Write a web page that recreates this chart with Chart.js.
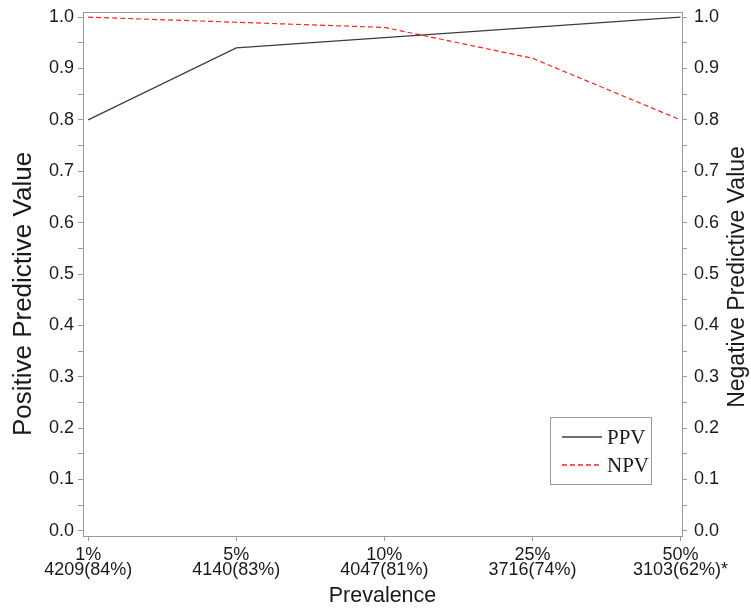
<!DOCTYPE html>
<html>
<head>
<meta charset="utf-8">
<script src="https://cdn.jsdelivr.net/npm/chart.js@4.4.1/dist/chart.umd.min.js"></script>
<style>
  body { margin: 0; background: #fff; }
  #wrap { width: 751px; height: 612px; }
</style>
</head>
<body>
<div id="wrap"><canvas id="chart" width="751" height="612"></canvas></div>
<script>
const prevalence = ["1%", "5%", "10%", "25%", "50%"];
const sampleSizes = ["4209(84%)", "4140(83%)", "4047(81%)", "3716(74%)", "3103(62%)*"];
const ppvValues = [0.80, 0.94, 0.96, 0.98, 1.00];
const npvValues = [1.00, 0.99, 0.98, 0.92, 0.80];
const yTickLabels = ["0.0", "0.1", "0.2", "0.3", "0.4", "0.5", "0.6", "0.7", "0.8", "0.9", "1.0"];

const axisColor = "#9a9a9a";
const textColor = "#1a1a1a";
const ppvColor = "#3c3c3c";
const npvColor = "#ff2020";
const sans = "Liberation Sans, Arial, sans-serif";

function yTicks(scale) {
  const ticks = [];
  yTickLabels.forEach((label, i) => {
    const v = parseFloat(label);
    ticks.push({ value: v });
    if (i < yTickLabels.length - 1) ticks.push({ value: v + 0.05 });
  });
  scale.ticks = ticks;
}

function yLabel(value) {
  if (Math.abs(value * 10 - Math.round(value * 10)) > 1e-6) return "";
  return yTickLabels[Math.round(value * 10)];
}

function fitY(width) {
  return (scale) => {
    scale.width = width;
    scale.paddingTop = 0;
    scale.paddingBottom = 0;
  };
}

function rotatedText(ctx, text, x, y, size) {
  ctx.save();
  ctx.fillStyle = textColor;
  ctx.font = `${size}px ${sans}`;
  ctx.textAlign = "center";
  ctx.textBaseline = "middle";
  ctx.translate(x, y);
  ctx.rotate(-Math.PI / 2);
  ctx.fillText(text, 0, 0);
  ctx.restore();
}

const framePlugin = {
  id: "frame",
  afterDraw(chart) {
    const { ctx, chartArea } = chart;
    ctx.save();
    ctx.strokeStyle = axisColor;
    ctx.lineWidth = 1;
    ctx.beginPath();
    ctx.moveTo(chartArea.left, chartArea.top + 0.5);
    ctx.lineTo(chartArea.right, chartArea.top + 0.5);
    ctx.stroke();
    ctx.restore();

    // axis titles on both sides read bottom to top
    rotatedText(ctx, "Positive Predictive Value", 24, 294, 26);
    rotatedText(ctx, "Negative Predictive Value", 738, 277, 23);

    // legend box
    const items = [
      { label: "PPV", color: ppvColor, dash: [] },
      { label: "NPV", color: npvColor, dash: [5, 3] }
    ];
    ctx.save();
    ctx.strokeStyle = axisColor;
    ctx.lineWidth = 1;
    ctx.strokeRect(550.5, 417.5, 101, 67);
    items.forEach((item, i) => {
      const y = 437 + i * 28;
      ctx.strokeStyle = item.color;
      ctx.lineWidth = 1.6;
      ctx.setLineDash(item.dash);
      ctx.beginPath();
      ctx.moveTo(562, y);
      ctx.lineTo(602, y);
      ctx.stroke();
      ctx.setLineDash([]);
      ctx.fillStyle = textColor;
      ctx.font = "21px Liberation Serif, Times New Roman, serif";
      ctx.textBaseline = "middle";
      ctx.fillText(item.label, 607, y + 1);
    });
    ctx.restore();
  }
};

new Chart(document.getElementById("chart"), {
  type: "line",
  data: {
    datasets: [
      {
        label: "PPV",
        data: ppvValues.map((v, i) => ({ x: i, y: v })),
        borderColor: ppvColor,
        borderWidth: 1.2,
        pointRadius: 0,
        yAxisID: "y"
      },
      {
        label: "NPV",
        data: npvValues.map((v, i) => ({ x: i, y: v })),
        borderColor: npvColor,
        borderWidth: 1.2,
        borderDash: [5, 3],
        pointRadius: 0,
        yAxisID: "y2"
      }
    ]
  },
  options: {
    responsive: false,
    animation: false,
    layout: { padding: { top: 12, left: 0, right: 0, bottom: 0 } },
    plugins: {
      legend: { display: false },
      tooltip: { enabled: false }
    },
    scales: {
      x: {
        type: "linear",
        min: -0.035,
        max: 4.01,
        afterBuildTicks: (scale) => { scale.ticks = prevalence.map((_, i) => ({ value: i })); },
        afterFit: (scale) => {
          scale.height = 76;
          scale.paddingLeft = 0;
          scale.paddingRight = 0;
        },
        ticks: {
          color: textColor,
          font: { family: sans, size: 18, lineHeight: 0.84 },
          maxRotation: 0,
          padding: 6,
          callback: (value) => [prevalence[value], sampleSizes[value]]
        },
        grid: { drawOnChartArea: false, color: axisColor, tickLength: 5 },
        border: { color: axisColor },
        title: {
          display: true,
          text: "Prevalence",
          color: textColor,
          font: { family: sans, size: 21.5 },
          padding: { top: 0, bottom: 3 }
        }
      },
      y: {
        position: "left",
        min: -0.01,
        max: 1.01,
        afterBuildTicks: yTicks,
        afterFit: fitY(83),
        ticks: { color: textColor, font: { family: sans, size: 18 }, padding: 4, callback: yLabel },
        grid: { drawOnChartArea: false, color: axisColor, tickLength: 5 },
        border: { color: axisColor }
      },
      y2: {
        position: "right",
        min: -0.01,
        max: 1.01,
        afterBuildTicks: yTicks,
        afterFit: fitY(69),
        ticks: { color: textColor, font: { family: sans, size: 18 }, padding: 7, callback: yLabel },
        grid: { drawOnChartArea: false, color: axisColor, tickLength: 5 },
        border: { color: axisColor }
      }
    }
  },
  plugins: [framePlugin]
});
</script>
</body>
</html>
